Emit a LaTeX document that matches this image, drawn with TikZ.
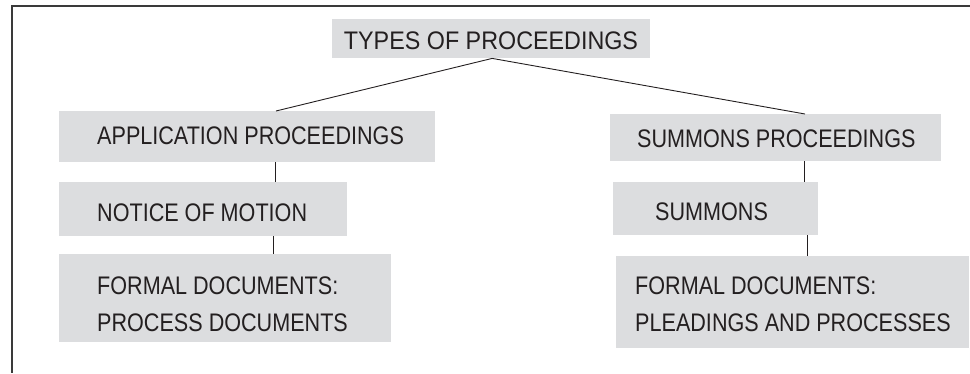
\documentclass[tikz,border=0pt]{standalone}
\usepackage{fontspec}
\setmainfont{Liberation Sans}
\newfontfamily\condfont[FakeStretch=0.85]{Liberation Sans}
\definecolor{boxgray}{HTML}{DCDDDF}
\definecolor{inkdark}{HTML}{231F20}
\definecolor{framegray}{HTML}{3A3A3A}
\tikzset{
  panel/.style={fill=boxgray, draw=none, inner sep=0pt, anchor=north west},
  caption/.style={inner sep=0pt, anchor=base west, text=inkdark, align=left,
    font=\condfont\fontsize{25.4}{37}\selectfont},
  link/.style={draw=inkdark, line width=0.9pt},
  frame/.style={draw=framegray, line width=1.3pt}
}
\begin{document}
\begin{tikzpicture}[x=1pt, y=-1pt]
  \useasboundingbox (0,0) rectangle (970,373);
  % open frame: top and left edges only
  \coordinate (fr-tr) at (970,6);
  \coordinate (fr-tl) at (12,6);
  \coordinate (fr-bl) at (12,373);
  \draw[frame] (fr-tr) -- (fr-tl) -- (fr-bl);

  % boxes
  \node[panel, minimum width=318pt, minimum height=39pt] (top) at (332,19) {};
  \node[panel, minimum width=376pt, minimum height=51pt] (ap) at (59,111) {};
  \node[panel, minimum width=288pt, minimum height=54pt] (nm) at (59,182) {};
  \node[panel, minimum width=332pt, minimum height=88pt] (fl) at (59,254) {};
  \node[panel, minimum width=331pt, minimum height=47pt] (sp) at (610,114) {};
  \node[panel, minimum width=205pt, minimum height=53pt] (sm) at (613,182) {};
  \node[panel, minimum width=353pt, minimum height=92pt] (fr) at (616,256) {};

  % labels (two-line labels are anchored on their last baseline)
  \node[caption, anchor=base] (top-t) at (491,49) {\scalebox{1.08}[1]{TYPES OF PROCEEDINGS}};
  \node[caption] (ap-t) at (97,144) {APPLICATION PROCEEDINGS};
  \node[caption] (nm-t) at (97,221) {NOTICE OF MOTION};
  \node[caption] (fl-t) at (97,331) {FORMAL DOCUMENTS:\\PROCESS DOCUMENTS};
  \node[caption] (sp-t) at (637,147) {SUMMONS PROCEEDINGS};
  \node[caption] (sm-t) at (655,220) {SUMMONS};
  \node[caption] (fr-t) at (635,331) {FORMAL DOCUMENTS:\\PLEADINGS AND PROCESSES};

  % connectors
  \draw[link] ([xshift=1pt]top.south) -- ([xshift=217pt]ap.north west);
  \draw[link] ([xshift=1pt]top.south) -- ([xshift=195pt]sp.north west);
  \draw[link] ([xshift=216pt]ap.south west) -- ([xshift=216pt]ap.south west |- nm.north);
  \draw[link] ([xshift=214pt]nm.south west) -- ([xshift=214pt]nm.south west |- fl.north);
  \draw[link] ([xshift=194pt]sp.south west) -- ([xshift=194pt]sp.south west |- sm.north);
  \draw[link] ([xshift=194pt]sm.south west) -- ([xshift=194pt]sm.south west |- fr.north);
\end{tikzpicture}
\end{document}
